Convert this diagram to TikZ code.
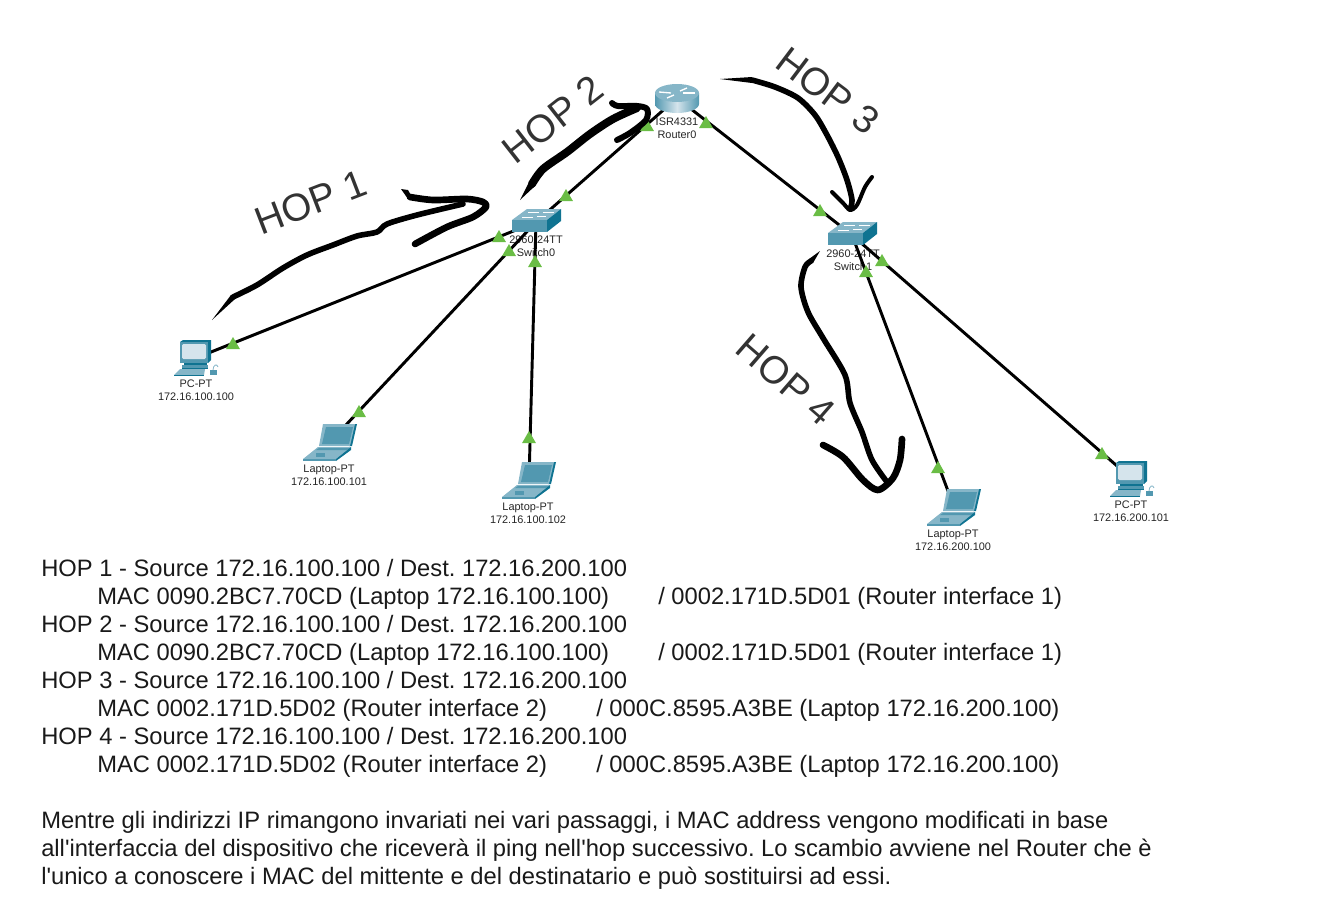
\documentclass[tikz,border=0pt]{standalone}
\usepackage{fontspec}
\setmainfont{Liberation Sans}
\newfontfamily\plainsans{Liberation Sans}
\usetikzlibrary{shapes.geometric}
\definecolor{ciscolight}{HTML}{86B6C8}
\definecolor{ciscomid}{HTML}{5298B0}
\definecolor{ciscodark}{HTML}{0F7391}
\definecolor{ciscoscreen}{HTML}{D5E4EC}
\definecolor{linkgreen}{HTML}{6ABD45}
\def\hoplabel#1#2#3#4{\node[hoplbl,rotate=#4] (#1) at (#2) {#3}}
\def\devlabel#1#2#3#4{\node[devlbl] (#1) at (#2) {#3\\#4}}
\tikzstyle{dev}=[inner sep=0pt,minimum width=20pt,minimum height=12pt]
\tikzstyle{link}=[draw=black,line width=2.2pt]
\tikzstyle{linkup}=[regular polygon,regular polygon sides=3,fill=linkgreen,inner sep=0pt,minimum size=12pt,yshift=-1.5pt]
\tikzstyle{devlbl}=[align=center,font=\fontsize{8.2pt}{9.7pt}\selectfont,text=black!85,inner sep=0pt]
\tikzstyle{hoplbl}=[font=\fontsize{29pt}{31pt}\selectfont,text=black!80,inner sep=0pt]
\tikzstyle{bodytxt}=[anchor=base west,font=\plainsans\fontsize{17.8pt}{21pt}\selectfont\frenchspacing,text=black!90,inner sep=0pt]
\tikzstyle{hand}=[line width=4.2pt,line cap=round,line join=round,smooth,tension=.5]
\tikzset{
pics/pcicon/.style={code={
    \fill[ciscodark] (-16,-16) -- (-13,-18) -- (15,-18) -- (15,2) -- (12,5) -- cycle;
    \fill[ciscomid] (-16,-16) rectangle (12,5);
    \fill[ciscoscreen,rounded corners=1pt] (-14,-14) rectangle (10,1);
    \fill[ciscodark] (-12,5) rectangle (11,7);
    \fill[ciscomid] (-14,7) rectangle (12,11);
    \fill[ciscodark] (-14,10) rectangle (12,11);
    \fill[ciscolight] (-22,17) -- (-16,11) -- (9,11) -- (8,17) -- cycle;
    \fill[ciscodark] (-22,17) rectangle (8,18);
    \fill[ciscomid] (14,12) rectangle (21,17);
    \draw[ciscolight,line width=.6pt] (17,12) .. controls (17,7) and (21,5) .. (22,9);
}},
pics/laptopicon/.style={code={
    \fill[ciscodark] (27,-18) -- (22,4) -- (19,4) -- (24,-18) -- cycle;
    \fill[ciscolight] (-7,-18) -- (25,-18) -- (20,4) -- (-11,4) -- cycle;
    \fill[ciscomid] (-4,-15) -- (23,-15) -- (19,2) -- (-8,2) -- cycle;
    \fill[ciscolight] (-27,17) -- (-12,5) -- (21,5) -- (6,17) -- cycle;
    \fill[ciscomid] (-11,6) -- (20,6) -- (17,8) -- (-14,8) -- cycle;
    \fill[ciscomid] (-14,11) rectangle (-5,15);
    \fill[ciscomid] (-27,17) rectangle (6,19);
    \fill[ciscodark] (6,19) -- (21,8) -- (21,5) -- (6,17) -- cycle;
}},
pics/routericon/.style={code={
    \path[left color=ciscomid,right color=ciscomid,middle color=ciscoscreen] (-22,-5) -- (-22,6) arc[start angle=180,end angle=0,x radius=22,y radius=9] -- (22,-5) -- cycle;
    \fill[ciscolight] (0,-5) ellipse [x radius=22,y radius=9];
    \foreach \ax/\ay/\bx/\by in {-18/-6/-6/-5,18/-5/6/-5,-10/0/-3/-3,10/-10/3/-7}
      \draw[white,line width=1pt] (\ax,\ay) -- (\bx,\by);
}},
pics/switchicon/.style={code={
    \fill[ciscolight] (-24,-2) -- (-9,-13) -- (25,-13) -- (11,-2) -- cycle;
    \fill[ciscomid] (-24,-2) rectangle (11,10);
    \fill[ciscodark] (11,-2) -- (25,-13) -- (25,-1) -- (11,10) -- cycle;
    \foreach \ax/\ay/\bx/\by in {-8/-10/3/-10,7/-10/18/-10,-14/-5/-3/-5,1/-6/10/-6}
      \draw[white,line width=.7pt] (\ax,\ay) -- (\bx,\by);
}}}

\begin{document}
\begin{tikzpicture}[x=.75pt,y=-.75pt]
    \useasboundingbox (0,0) rectangle (1333,896);
    \node[dev] (router0) at (677,98) {};
    \node[dev] (switch0) at (536,222) {};
    \node[dev] (switch1) at (852,235) {};
    \node[dev] (pc100) at (196,358) {};
    \node[dev] (laptop101) at (330,442) {};
    \node[dev] (laptop102) at (529,480) {};
    \node[dev] (laptop200) at (954,507) {};
    \node[dev] (pc201) at (1132,479) {};
    \devlabel{lblrouter}{677,128}{ISR4331}{Router0};
    \devlabel{lblsw0}{536,246.5}{2960-24TT}{Switch0};
    \devlabel{lblsw1}{853,260}{2960-24TT}{Switch1};
    \devlabel{lblpc100}{196,390.5}{PC-PT}{172.16.100.100};
    \devlabel{lbllap101}{329,475.5}{Laptop-PT}{172.16.100.101};
    \devlabel{lbllap102}{528,513.5}{Laptop-PT}{172.16.100.102};
    \devlabel{lbllap200}{953,540.5}{Laptop-PT}{172.16.200.100};
    \devlabel{lblpc201}{1131,511.5}{PC-PT}{172.16.200.101};
    \foreach \a/\b in {pc100/switch0,laptop101/switch0,laptop102/switch0,switch0/router0,router0/switch1,switch1/laptop200,switch1/pc201}
      \draw[link] (\a) -- (\b);
    \pic at (router0) {routericon};
    \pic at (switch0) {switchicon};
    \pic at (switch1) {switchicon};
    \pic at (pc100) {pcicon};
    \pic at (laptop101) {laptopicon};
    \pic at (laptop102) {laptopicon};
    \pic at (laptop200) {laptopicon};
    \pic at (pc201) {pcicon};
    \foreach \n/\x/\y in {a/647/125,b/706/122,c/566/195,d/499/236,e/509/250,f/535/261,g/820/210,h/882/260,i/866/271,j/233/343,k/359/411,l/529/437,m/938/467,n/1102/453}
      \node[linkup] (up\n) at (\x,\y) {};
    % hand drawn hops
    \fill (212,320) -- (231,295) -- (235,299) -- cycle;
    \draw[hand] plot coordinates {(233,297) (257,285) (283,268) (307,255) (333,245) (357,236) (377,232) (387,224) (417,215) (463,204)};
    \draw[hand,line width=5pt] plot coordinates {(410,197) (433,200) (467,199) (483,202) (486,207) (473,217) (447,227) (415,244)};
    \fill (401,189) -- (408,190) -- (412,197) -- (408,199) -- cycle;
    \fill (520,200) -- (529,182) -- (535,186) -- cycle;
    \draw[hand,line width=6pt] plot coordinates {(532,184) (543,169) (567,152) (590,134) (613,119) (637,108)};
    \draw[hand,line width=4.5pt] plot coordinates {(612,103) (618,106) (637,106) (647,109) (646,120) (630,133) (617,140)};
    \fill (720,79) -- (752,77) -- (752,83) -- cycle;
    \draw[hand] plot coordinates {(752,80) (775,87) (798,98) (815,115) (827,135) (838,157) (847,180) (852,200) (850,209)};
    \draw[hand,line width=3pt] plot coordinates {(832,192) (843,203) (850,210) (857,205) (865,187) (872,177)};
    \fill (820,251) -- (809,259) -- (813,263) -- cycle;
    \draw[hand] plot coordinates {(811,261) (805,267) (801,287) (808,312) (823,338) (845,375) (850,403) (862,432) (872,460) (887,482)};
    \draw[hand,line width=5pt] plot coordinates {(823,445) (843,457) (863,480) (878,490) (893,478) (900,460) (902,439)};
    \hoplabel{hop1}{311,202}{HOP 1}{21};
    \hoplabel{hop2}{553,119}{HOP 2}{38};
    \hoplabel{hop3}{828,91}{HOP 3}{-37};
    \hoplabel{hop4}{786,380}{HOP 4}{-41};
    \foreach \n/\y/\h in {a/576/1,b/632/2,c/688/3,d/744/4}
      \node[bodytxt] (head\n) at (41,\y) {HOP \h{} - Source 172.16.100.100 / Dest. 172.16.200.100};
    \foreach \n/\y in {a/604,b/660}{
      \node[bodytxt] (mac\n) at (97,\y) {MAC 0090.2BC7.70CD (Laptop 172.16.100.100)};
      \node[bodytxt] (dst\n) at (658,\y) {/ 0002.171D.5D01 (Router interface 1)};
    }
    \foreach \n/\y in {c/716,d/772}{
      \node[bodytxt] (mac\n) at (97,\y) {MAC 0002.171D.5D02 (Router interface 2)};
      \node[bodytxt] (dst\n) at (596,\y) {/ 000C.8595.A3BE (Laptop 172.16.200.100)};
    }
    \node[bodytxt] (notea) at (41,828) {Mentre gli indirizzi IP rimangono invariati nei vari passaggi, i MAC address vengono modificati in base};
    \node[bodytxt] (noteb) at (41,856) {all'interfaccia del dispositivo che riceverà il ping nell'hop successivo. Lo scambio avviene nel Router che è};
    \node[bodytxt] (notec) at (41,884) {l'unico a conoscere i MAC del mittente e del destinatario e può sostituirsi ad essi.};
\end{tikzpicture}
\end{document}
